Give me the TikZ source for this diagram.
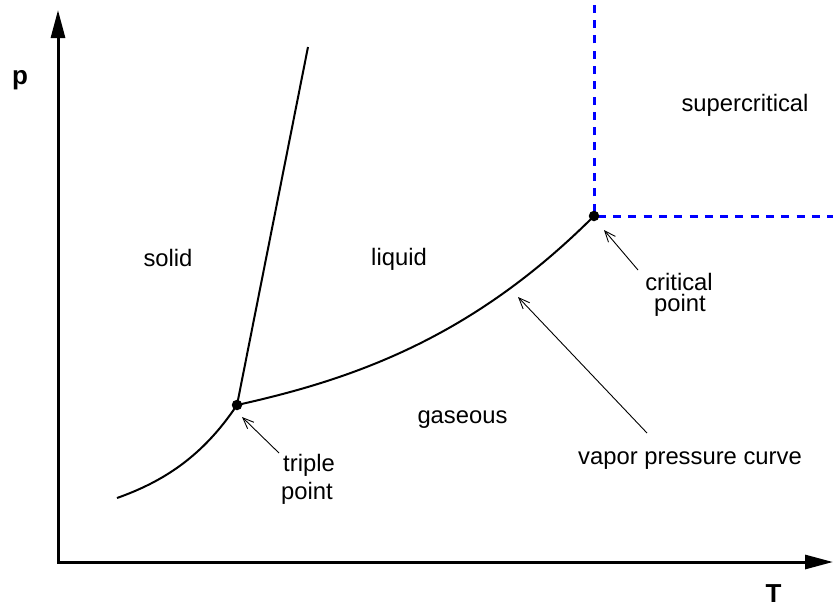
\documentclass[tikz,border=0pt]{standalone}
\usepackage{fontspec}
\setmainfont{Liberation Sans}
\usetikzlibrary{arrows.meta}
\begin{document}
\begin{tikzpicture}[x=1pt,y=-1pt,
  axis/.style={line width=3pt,{Triangle[length=28pt,width=14pt]}-{Triangle[length=28pt,width=14pt]}},
  curve/.style={line width=2pt},
  crit/.style={blue,line width=3pt,dash pattern=on 8pt off 7.3pt},
  pointer/.style={line width=0.9pt,-{Straight Barb[length=11pt,width=9pt]}},
  dot/.style={circle,fill=black,inner sep=0pt,minimum size=10.5pt},
  lbl/.style={font=\fontsize{23.8}{28}\selectfont,anchor=base,inner sep=0pt},
  axlbl/.style={font=\fontsize{26}{30}\selectfont\bfseries,anchor=base,inner sep=0pt}]
\useasboundingbox (0,0) rectangle (833,606);
% key points
\coordinate (tp) at (237,405);
\coordinate (cp) at (594,216);
\coordinate (orig) at (58,562);
\coordinate (ytip) at (58,10);
\coordinate (xtip) at (833,562);
\coordinate (subl) at (117,498);
\coordinate (melt) at (308,47);
\coordinate (cptop) at (594,0);
\coordinate (cpright) at (833,216);
% axes
\draw[axis] (ytip) -- (orig) -- (xtip);
% supercritical boundary
\draw[crit,dash phase=10.9pt] (cp) -- (cptop);
\draw[crit,dash phase=11.6pt] (cp) -- (cpright);
% phase curves
\draw[curve] (subl) .. controls (162,482) and (202,457.5) .. (tp)
  .. controls (357,378.6) and (474,336) .. (cp);
\draw[curve] (tp) -- (melt);
\node[dot] (tpd) at (tp) {};
\node[dot] (cpd) at (cp) {};
% pointers
\coordinate (tpt) at (279,453);
\coordinate (tph) at (242,417);
\coordinate (cpt) at (638,270);
\coordinate (cph) at (604,230);
\coordinate (vpt) at (647,433);
\coordinate (vph) at (518,297);
\draw[pointer] (tpt) -- (tph);
\draw[pointer] (cpt) -- (cph);
\draw[pointer] (vpt) -- (vph);
% labels
\node[axlbl] (plbl) at (20,84) {p};
\node[axlbl] (Tlbl) at (773.5,602) {T};
\node[lbl] (solid) at (168,266) {solid};
\node[lbl] (liquid) at (399,265) {liquid};
\node[lbl] (gas) at (462.5,423) {gaseous};
\node[lbl] (super) at (745,111.5) {supercritical};
\node[lbl] (tripA) at (309,471) {triple};
\node[lbl] (tripB) at (307,499) {point};
\node[lbl] (critA) at (679,290) {critical};
\node[lbl] (critB) at (680,311.5) {point};
\node[lbl] (vpc) at (690,464) {vapor pressure curve};
\end{tikzpicture}
\end{document}
